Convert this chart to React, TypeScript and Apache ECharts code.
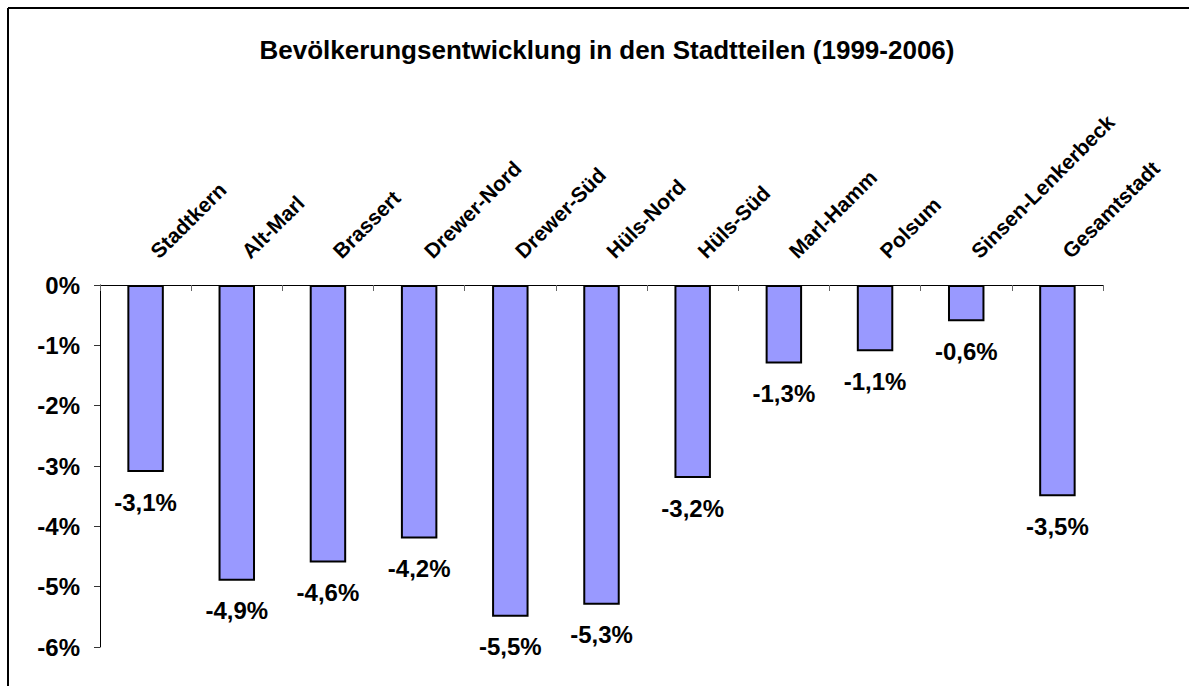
import React, { useEffect, useRef } from "react";
import * as echarts from "echarts";

const categories = [
  "Stadtkern",
  "Alt-Marl",
  "Brassert",
  "Drewer-Nord",
  "Drewer-Süd",
  "Hüls-Nord",
  "Hüls-Süd",
  "Marl-Hamm",
  "Polsum",
  "Sinsen-Lenkerbeck",
  "Gesamtstadt",
];
const values = [-3.1, -4.9, -4.6, -4.2, -5.5, -5.3, -3.2, -1.3, -1.1, -0.6, -3.5];
const yTicks = { min: -6, max: 0, interval: 1 };
const titleText = "Bevölkerungsentwicklung in den Stadtteilen (1999-2006)";

const FONT = "'Liberation Sans', Arial, Helvetica, sans-serif";

export default function App() {
  const ref = useRef<HTMLDivElement>(null);
  useEffect(() => {
    if (!ref.current) return;
    const chart = echarts.init(ref.current, undefined, { renderer: "svg" });
    chart.setOption({
      animation: false,
      backgroundColor: "#ffffff",
      title: {
        text: titleText,
        left: 602,
        top: 32,
        textAlign: "center",
        textStyle: { fontFamily: FONT, fontWeight: "bold", fontSize: 26, color: "#000" },
      },
      graphic: [
        { type: "line", shape: { x1: 8, y1: 8, x2: 1189, y2: 8 }, style: { stroke: "#000", lineWidth: 2 } },
        { type: "line", shape: { x1: 8, y1: 8, x2: 8, y2: 686 }, style: { stroke: "#000", lineWidth: 2 } },
      ],
      grid: { left: 100, right: 86, top: 285, bottom: 39, containLabel: false },
      xAxis: {
        type: "category",
        position: "top",
        data: categories,
        boundaryGap: true,
        axisLine: { show: true, lineStyle: { color: "#000", width: 1 } },
        axisTick: { show: true, inside: true, length: 6, lineStyle: { color: "#666" } },
        axisLabel: {
          rotate: 45,
          margin: 22,
          interval: 0,
          padding: [0, 0, 0, 12],
          fontFamily: FONT,
          fontWeight: "bold",
          fontSize: 21,
          color: "#000",
        },
        splitLine: { show: false },
      },
      yAxis: {
        type: "value",
        min: yTicks.min,
        max: yTicks.max,
        interval: yTicks.interval,
        axisLine: { show: true, lineStyle: { color: "#000", width: 1 } },
        axisTick: { show: true, inside: false, length: 6, lineStyle: { color: "#333" } },
        axisLabel: {
          margin: 20,
          formatter: (v: number) => `${v}%`,
          fontFamily: FONT,
          fontWeight: "bold",
          fontSize: 24,
          color: "#000",
        },
        splitLine: { show: false },
      },
      series: [
        {
          type: "bar",
          data: values,
          barWidth: "40%",
          itemStyle: { color: "#9999FF", borderColor: "#000", borderWidth: 2 },
          label: {
            show: true,
            position: "bottom",
            distance: 18,
            formatter: (p: any) => `${Number(p.value).toFixed(1).replace(".", ",")}%`,
            fontFamily: FONT,
            fontWeight: "bold",
            fontSize: 24,
            color: "#000",
          },
        },
      ],
    });
    return () => chart.dispose();
  }, []);
  return (
    <div
      ref={ref}
      style={{ position: "absolute", left: 0, top: 0, width: 1189, height: 686 }}
    />
  );
}
